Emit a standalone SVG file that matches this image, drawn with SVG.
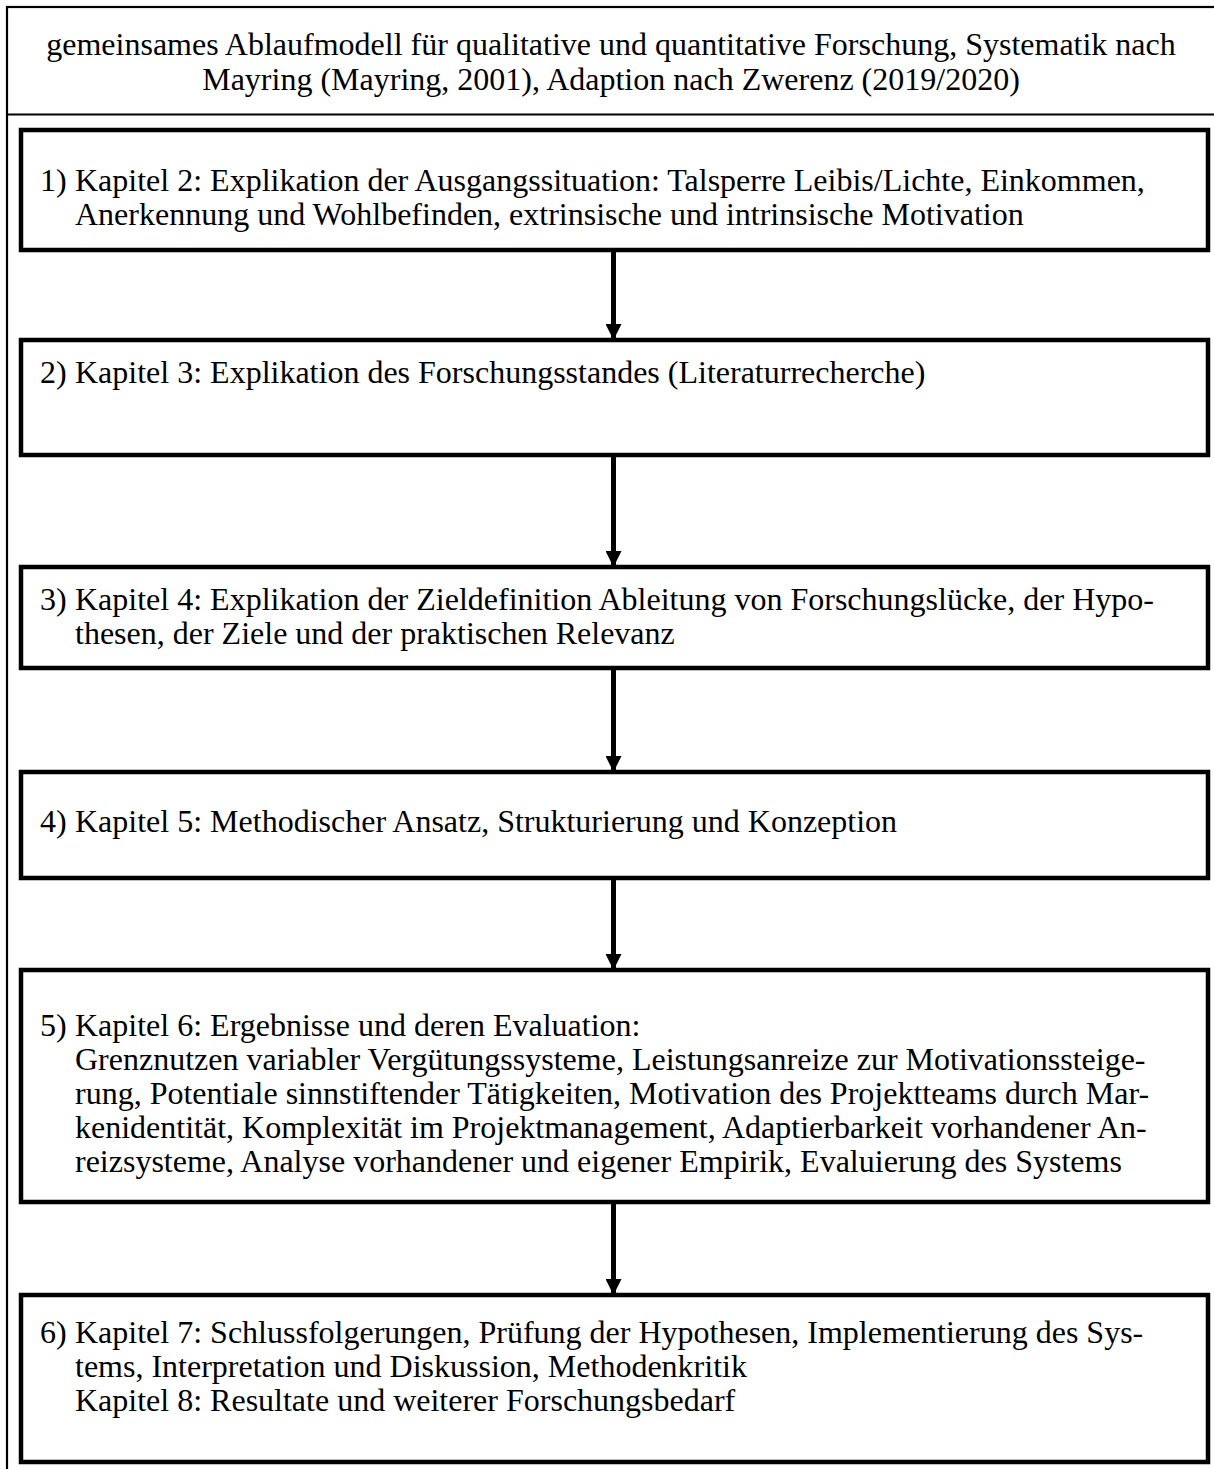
<svg xmlns="http://www.w3.org/2000/svg" width="1214" height="1469" viewBox="0 0 1214 1469">
  <style>
    text { font-family: "Liberation Serif", "Times New Roman", serif; font-size: 32px; fill: #000; }
    .title { text-anchor: middle; }
    .frame { fill: none; stroke: #000; stroke-width: 2.2; }
    .box { fill: #fff; stroke: #000; stroke-width: 4.5; }
    .flow { stroke: #000; stroke-width: 5; fill: none; }
  </style>
  <defs>
    <marker id="head" markerUnits="userSpaceOnUse" markerWidth="18" markerHeight="16" refX="16" refY="8" orient="auto">
      <path d="M0,0 L16,8 L0,16 Z" fill="#000"/>
    </marker>
  </defs>

  <rect width="1214" height="1469" fill="#fff"/>

  <!-- outer frame with heading row -->
  <g id="frame">
    <rect class="frame" x="7" y="7" width="1230" height="1490"/>
    <line class="frame" x1="7" y1="114.5" x2="1214" y2="114.5"/>
    <text class="title" x="611" y="55">gemeinsames Ablaufmodell für qualitative und quantitative Forschung, Systematik nach<tspan x="611" dy="35">Mayring (Mayring, 2001), Adaption nach Zwerenz (2019/2020)</tspan></text>
  </g>

  <!-- connectors between the steps -->
  <g id="connectors">
    <line class="flow" x1="613.5" y1="252" x2="613.5" y2="340" marker-end="url(#head)"/>
    <line class="flow" x1="613.5" y1="457" x2="613.5" y2="567" marker-end="url(#head)"/>
    <line class="flow" x1="613.5" y1="670" x2="613.5" y2="772" marker-end="url(#head)"/>
    <line class="flow" x1="613.5" y1="880" x2="613.5" y2="970" marker-end="url(#head)"/>
    <line class="flow" x1="613.5" y1="1204" x2="613.5" y2="1295" marker-end="url(#head)"/>
  </g>

  <g id="step1">
    <rect class="box" x="21" y="130" width="1187" height="120"/>
    <text x="40" y="191">1)</text>
    <text x="75" y="191">Kapitel 2: Explikation der Ausgangssituation: Talsperre Leibis/Lichte, Einkommen,<tspan x="75" dy="34">Anerkennung und Wohlbefinden, extrinsische und intrinsische Motivation</tspan></text>
  </g>

  <g id="step2">
    <rect class="box" x="21" y="340" width="1187" height="115"/>
    <text x="40" y="383">2)</text>
    <text x="75" y="383">Kapitel 3: Explikation des Forschungsstandes (Literaturrecherche)</text>
  </g>

  <g id="step3">
    <rect class="box" x="21" y="567" width="1187" height="101"/>
    <text x="40" y="610">3)</text>
    <text x="75" y="610">Kapitel 4: Explikation der Zieldefinition Ableitung von Forschungslücke, der Hypo-<tspan x="75" dy="34">thesen, der Ziele und der praktischen Relevanz</tspan></text>
  </g>

  <g id="step4">
    <rect class="box" x="21" y="772" width="1187" height="106"/>
    <text x="40" y="832">4)</text>
    <text x="75" y="832">Kapitel 5: Methodischer Ansatz, Strukturierung und Konzeption</text>
  </g>

  <g id="step5">
    <rect class="box" x="21" y="970" width="1187" height="232"/>
    <text x="40" y="1036">5)</text>
    <text x="75" y="1036">Kapitel 6: Ergebnisse und deren Evaluation:<tspan x="75" dy="34">Grenznutzen variabler Vergütungssysteme, Leistungsanreize zur Motivationssteige-</tspan><tspan x="75" dy="34">rung, Potentiale sinnstiftender Tätigkeiten, Motivation des Projektteams durch Mar-</tspan><tspan x="75" dy="34">kenidentität, Komplexität im Projektmanagement, Adaptierbarkeit vorhandener An-</tspan><tspan x="75" dy="34">reizsysteme, Analyse vorhandener und eigener Empirik, Evaluierung des Systems</tspan></text>
  </g>

  <g id="step6">
    <rect class="box" x="21" y="1295" width="1187" height="167"/>
    <text x="40" y="1343">6)</text>
    <text x="75" y="1343">Kapitel 7: Schlussfolgerungen, Prüfung der Hypothesen, Implementierung des Sys-<tspan x="75" dy="34">tems, Interpretation und Diskussion, Methodenkritik</tspan><tspan x="75" dy="34">Kapitel 8: Resultate und weiterer Forschungsbedarf</tspan></text>
  </g>
</svg>
